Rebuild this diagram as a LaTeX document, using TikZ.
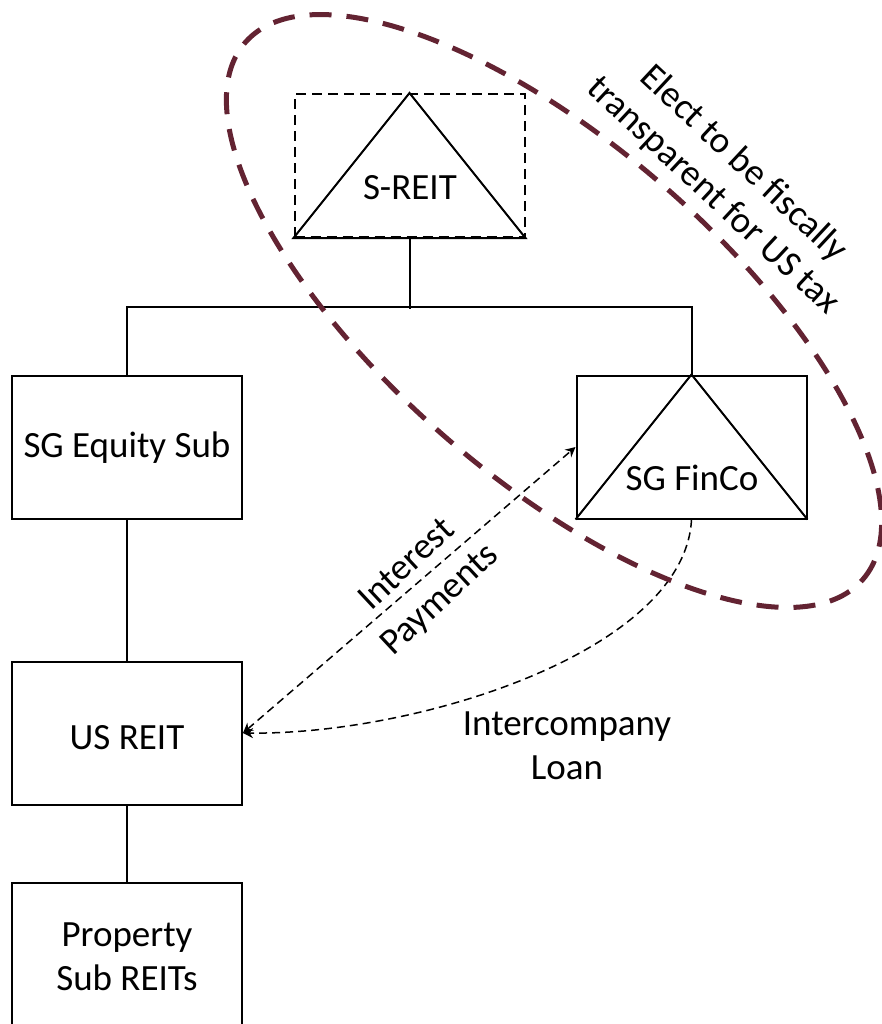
\documentclass[tikz,border=0pt]{standalone}
\usepackage{fontspec}
\setmainfont{Carlito}
\usetikzlibrary{positioning,arrows.meta}
\definecolor{ovalred}{RGB}{99,35,50}

\begin{document}
\begin{tikzpicture}[x=0.5pt,y=-0.5pt,
    font=\fontsize{18.5}{22}\selectfont,
    entity/.style={draw, line width=1pt, minimum width=115pt, minimum height=71.5pt, inner sep=0pt},
    link/.style={line width=1pt},
    flow/.style={line width=0.75pt, dash pattern=on 4pt off 2.5pt},
    >={Stealth[length=5pt,width=5pt]}]
    \useasboundingbox (0,0) rectangle (882,1024);

    % Draw entities
    \node[entity, dash pattern=on 5pt off 3pt] (sreit) at (409.5,165.5) {};
    \node[entity] (sgequity) at (127,447.5) {SG Equity Sub};
    \node[entity] (sgfinco) at (691.5,447) {};
    \node[entity, text height=17pt] (usreit) at (127,733) {US REIT};
    \node[entity, minimum height=74pt, align=center] (propsub) at (127,957) {Property\\Sub REITs};

    % Draw triangles for the trust entities
    \draw[link] (sreit.south west) -- (sreit.north) -- (sreit.south east) -- cycle;
    \node (sreitname) at (410,188) {S-REIT};
    \draw[link] (sgfinco.south west) -- (sgfinco.north) -- (sgfinco.south east);
    \node (sgfinconame) at (692,478) {SG FinCo};

    % Ownership lines
    \draw[link] (sreit.south) -- ++(0,71);
    \draw[link] (sgequity.north) -- ++(0,-68) -| (sgfinco.north);
    \draw[link] (sgequity) -- (usreit);
    \draw[link] (usreit) -- (propsub);

    % Loan and interest flows
    \draw[flow, <->] (usreit.east) -- (sgfinco.west);
    \node[rotate=43, align=center] (interestlbl) at (424,583) {Interest\\[2pt]Payments};
    \draw[flow, ->] (sgfinco.south) .. controls (685,650) and (420,735) .. (usreit.east);
    \node[align=center] (loanlbl) at (567,746) {Intercompany\\Loan};

    % Election oval
    \draw[ovalred, line width=2.5pt, dash pattern=on 11pt off 7.5pt, shift={(554,311)}, rotate=-41]
      (0,0) ellipse [x radius=204.6pt, y radius=83.2pt];
    \node[rotate=-43, align=center] (electlbl) at (728,180) {Elect to be fiscally\\transparent for US tax};

\end{tikzpicture}
\end{document}
